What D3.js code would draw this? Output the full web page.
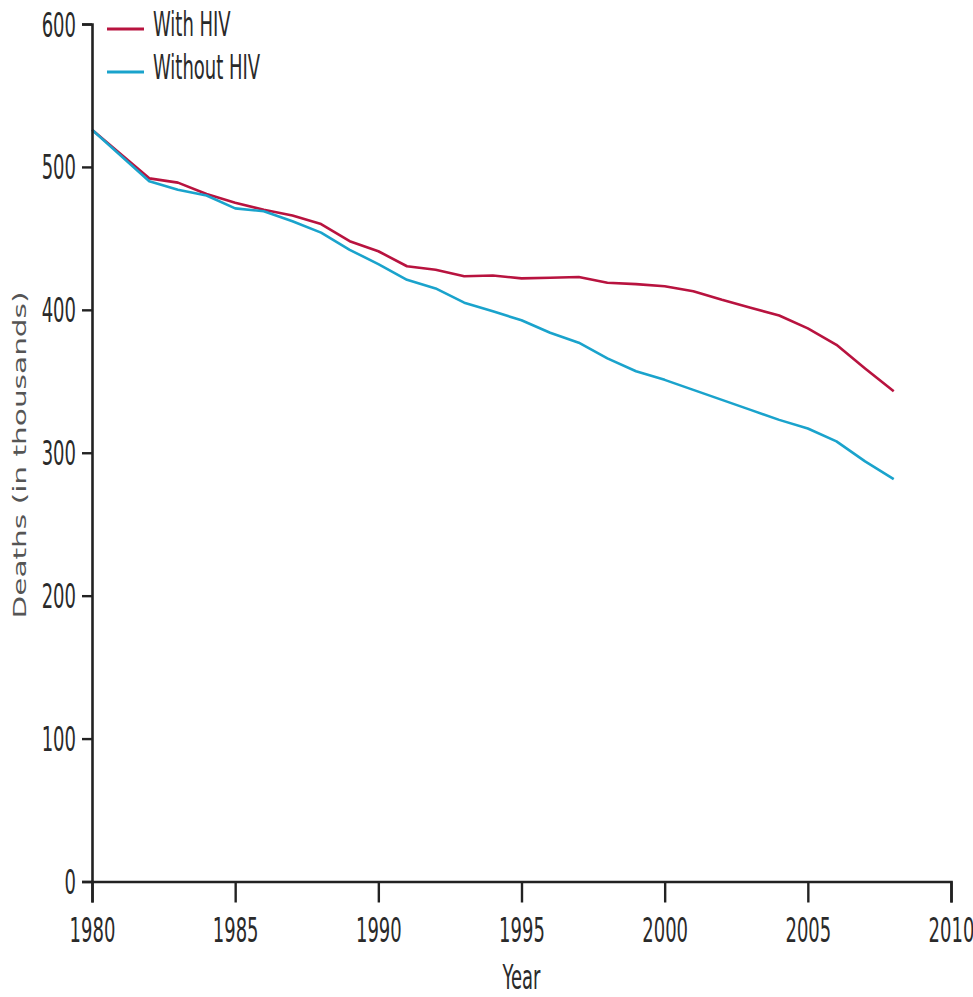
<!DOCTYPE html>
<html>
<head>
<meta charset="utf-8">
<script src="https://cdn.jsdelivr.net/npm/d3@7"></script>
<style>
  html, body { margin: 0; padding: 0; background: #fff; }
  svg { display: block; }
  .cond { font-family: "Liberation Sans Narrow", "Arial Narrow", "DejaVu Sans Condensed", sans-serif; }
</style>
</head>
<body>
<svg id="chart" width="973" height="997"></svg>
<script>
// ---- Data ----
const years = [1980, 1982, 1983, 1984, 1985, 1986, 1987, 1988, 1989, 1990,
               1991, 1992, 1993, 1994, 1995, 1996, 1997, 1998, 1999, 2000,
               2001, 2002, 2003, 2004, 2005, 2006, 2007, 2008];
const withHIV = [526, 492, 489, 481, 475, 470, 466, 460, 448, 441,
                 430.5, 428, 423.5, 424, 422, 422.4, 423, 419, 418, 416.5,
                 413, 407, 401.5, 396, 387, 375.5, 359, 343];
const withoutHIV = [526, 490, 484, 480, 471, 469, 462, 454, 442, 432,
                    421, 415, 405, 399, 392.7, 384, 377, 366, 357, 351,
                    344, 337, 330, 323, 317, 308, 294, 281.6];
const seriesNames = ["With HIV", "Without HIV"];
const seriesColors = ["#b8133f", "#1aa3cc"];
const yTicks = [0, 100, 200, 300, 400, 500, 600];
const xTicks = [1980, 1985, 1990, 1995, 2000, 2005, 2010];

// ---- Layout ----
const svg = d3.select("#chart");
const x = d3.scaleLinear().domain([1980, 2010]).range([92, 951]);
const y = d3.scaleLinear().domain([0, 600]).range([881.5, 24]);
const fs = 20;   // font size of condensed texts
const vs = 1.67; // vertical stretch of text in the reference

// Lines
const line = d3.line().x(d => x(d[0])).y(d => y(d[1])).curve(d3.curveLinear);
[withHIV, withoutHIV].forEach((vals, i) => {
  svg.append("path")
    .datum(years.map((yr, j) => [yr, vals[j]]))
    .attr("fill", "none")
    .attr("stroke", seriesColors[i])
    .attr("stroke-width", 2.6)
    .attr("stroke-linejoin", "round")
    .attr("d", line);
});

// Y axis
const gy = svg.append("g").attr("transform", `translate(${x(1980)},0)`)
  .call(d3.axisLeft(y).tickValues(yTicks).tickSize(10).tickSizeOuter(10).tickFormat(d3.format("d")));
// X axis
const gx = svg.append("g").attr("transform", `translate(0,${y(0)})`)
  .call(d3.axisBottom(x).tickValues(xTicks).tickSize(21).tickSizeOuter(21).tickFormat(d3.format("d")));

[gy, gx].forEach(g => {
  g.select(".domain").attr("stroke", "#222").attr("stroke-width", 2.6);
  g.selectAll(".tick line").attr("stroke", "#222").attr("stroke-width", 2.4);
  g.selectAll(".tick text").attr("class", "cond").attr("font-size", fs).attr("fill", "#2a2a2a");
  g.attr("font-family", null).attr("font-size", null);
});
gy.selectAll(".tick text")
  .attr("x", 0).attr("y", 0).attr("dy", "0.36em")
  .attr("text-anchor", "end")
  .attr("transform", `translate(-16,0) scale(1,${vs})`);
gx.selectAll(".tick text")
  .attr("x", 0).attr("y", 0).attr("dy", 0)
  .attr("text-anchor", "middle")
  .attr("transform", `translate(0,60) scale(1,${vs})`);

// Axis titles
svg.append("text")
  .attr("class", "cond")
  .attr("font-size", fs).attr("fill", "#2a2a2a")
  .attr("text-anchor", "middle")
  .attr("transform", `translate(${x(1995)},989) scale(1,${vs})`)
  .text("Year");

svg.append("text")
  .attr("font-family", "'DejaVu Sans', Verdana, sans-serif")
  .attr("font-size", 17.5).attr("fill", "#555")
  .attr("text-anchor", "middle")
  .attr("transform", `translate(26,455) rotate(-90) scale(1.69,1)`)
  .text("Deaths (in thousands)");

// Legend
seriesNames.forEach((name, i) => {
  const ly = 29 + i * 43;
  svg.append("line")
    .attr("x1", 107).attr("x2", 144).attr("y1", ly).attr("y2", ly)
    .attr("stroke", seriesColors[i]).attr("stroke-width", 2.8);
  svg.append("text")
    .attr("class", "cond")
    .attr("font-size", fs).attr("fill", "#2a2a2a")
    .attr("transform", `translate(153,${ly + 7}) scale(1,${vs})`)
    .text(name);
});
</script>
</body>
</html>
